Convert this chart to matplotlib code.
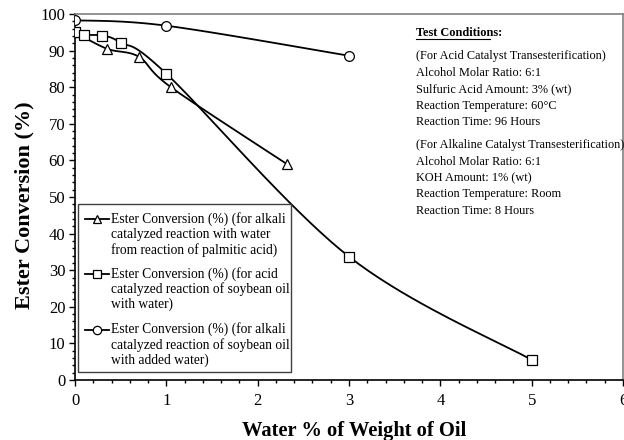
import numpy as np
import matplotlib
matplotlib.use("Agg")
import matplotlib.pyplot as plt
from matplotlib.lines import Line2D
from matplotlib.patches import Rectangle

plt.rcParams['font.family'] = ['Liberation Serif', 'DejaVu Serif']

# Data
tri_x = [0.0, 0.35, 0.7, 1.05, 2.32]
tri_y = [95.0, 90.5, 88.3, 80.0, 59.0]
sq_x = [0.0, 0.1, 0.3, 0.5, 1.0, 3.0, 5.0]
sq_y = [95.0, 94.3, 94.1, 92.2, 83.7, 33.7, 5.5]
ci_x = [0.0, 1.0, 3.0]
ci_y = [98.3, 96.8, 88.6]

labels = [
    ["Ester Conversion (%) (for alkali", "catalyzed reaction with water", "from reaction of palmitic acid)"],
    ["Ester Conversion (%) (for acid", "catalyzed reaction of soybean oil", "with water)"],
    ["Ester Conversion (%) (for alkali", "catalyzed reaction of soybean oil", "with added water)"],
]
conditions = [
    "(For Acid Catalyst Transesterification)",
    "Alcohol Molar Ratio: 6:1",
    "Sulfuric Acid Amount: 3% (wt)",
    "Reaction Temperature: 60\u00b0C",
    "Reaction Time: 96 Hours",
    None,
    "(For Alkaline Catalyst Transesterification)",
    "Alcohol Molar Ratio: 6:1",
    "KOH Amount: 1% (wt)",
    "Reaction Temperature: Room",
    "Reaction Time: 8 Hours",
]

SX, SY = 91.4, 3.66  # approx pixel scale for smoothing


def smooth(xs, ys, n=40):
    P = np.column_stack([np.array(xs) * SX, np.array(ys) * SY])
    out = []
    m = len(P)
    for i in range(m - 1):
        p0 = P[i - 1] if i > 0 else P[i]
        p1 = P[i]
        p2 = P[i + 1]
        p3 = P[i + 2] if i + 2 < m else P[i + 1]
        c1 = p1 + (p2 - p0) / 6.0
        c2 = p2 - (p3 - p1) / 6.0
        t = np.linspace(0, 1, n)[:, None]
        seg = ((1 - t) ** 3) * p1 + 3 * ((1 - t) ** 2) * t * c1 + 3 * (1 - t) * t ** 2 * c2 + t ** 3 * p2
        out.append(seg if i == 0 else seg[1:])
    out = np.vstack(out)
    return out[:, 0] / SX, out[:, 1] / SY


W, H = 624, 440
fig = plt.figure(figsize=(6.24, 4.4), dpi=100)
ax = fig.add_axes([75 / W, 1 - 380 / H, 548 / W, 366 / H])


def fx(px):
    return px / W


def fy(py):
    return 1 - py / H


lw = 1.3
ms = 7
markers = ['^', 's', 'o']
series = [(tri_x, tri_y), (sq_x, sq_y), (ci_x, ci_y)]
for (xs, ys), mk in zip(series, markers):
    sx, sy = smooth(xs, ys)
    ax.plot(sx, sy, color='black', lw=lw, zorder=2)
    ax.plot(xs, ys, linestyle='none', marker=mk, ms=ms, mfc='white', mec='black', mew=0.9, zorder=3)

ax.set_xlim(0, 6)
ax.set_ylim(0, 100)
ax.set_xticks(np.arange(0, 7, 1))
ax.set_xticks(np.arange(0, 6.01, 0.2), minor=True)
ax.set_yticks(np.arange(0, 101, 10))
ax.set_yticks(np.arange(0, 101, 2), minor=True)
ax.tick_params(axis='both', which='major', length=4, width=1, direction='out', labelsize=12, color='black')
ax.tick_params(axis='both', which='minor', length=2.5, width=1, direction='out', color='black')
ax.tick_params(axis='x', pad=5)
ax.tick_params(axis='y', pad=3)
for s in ['top', 'right']:
    ax.spines[s].set_color('#808080')
    ax.spines[s].set_linewidth(1.2)
for s in ['left', 'bottom']:
    ax.spines[s].set_color('black')
    ax.spines[s].set_linewidth(1.2)

fig.text(fx(354), fy(435.5), 'Water % of Weight of Oil', fontsize=14.8, fontweight='bold', ha='center',
         va='baseline')
fig.text(fx(24), fy(205), 'Ester Conversion (%)', fontsize=16, fontweight='bold', ha='center', va='center',
         rotation=90)

# Manual legend
fig.add_artist(Rectangle((fx(78), fy(372)), (291 - 78) / W, (372 - 204) / H, transform=fig.transFigure,
                         facecolor='white', edgecolor='#404040', lw=1.0, zorder=5))
entry_tops = [219, 274, 329.5]
for mk, lines, yt in zip(markers, labels, entry_tops):
    fig.add_artist(Line2D([fx(85), fx(109)], [fy(yt), fy(yt)], color='black', lw=lw, transform=fig.transFigure,
                          zorder=6))
    fig.add_artist(Line2D([fx(97)], [fy(yt)], marker=mk, ms=ms - 1, mfc='white', mec='black', mew=0.9,
                          transform=fig.transFigure, zorder=7))
    for k, ln in enumerate(lines):
        fig.text(fx(111), fy(yt + 15.3 * k), ln, fontsize=9.75, ha='left', va='center', zorder=8)

# Test condition text
x0 = fx(416)
fig.text(x0, fy(33), 'Test Conditions:', fontsize=8.8, fontweight='bold', va='center', ha='left')
fig.add_artist(Line2D([x0, fx(490)], [fy(39.5), fy(39.5)], color='black', lw=0.8, transform=fig.transFigure))
ys_pix = [56, 73, 89, 106, 122, None, 145, 162, 178, 194, 211]
for txt, yp in zip(conditions, ys_pix):
    if txt is None:
        continue
    fig.text(x0, fy(yp), txt, fontsize=8.8, va='center', ha='left')

fig.savefig('out.png', dpi=100)
